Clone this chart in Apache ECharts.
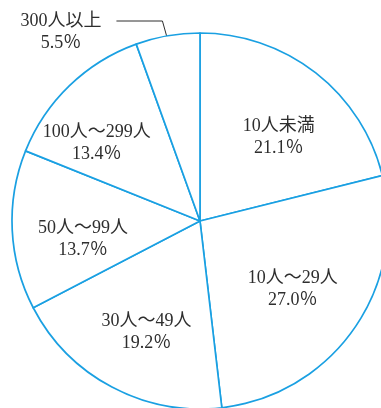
<!DOCTYPE html>
<html>
<head>
<meta charset="utf-8">
<style>
  html, body { margin: 0; padding: 0; background: #fff; }
  #chart { width: 381px; height: 408px; }
</style>
<script src="https://cdn.jsdelivr.net/npm/echarts@6/dist/echarts.min.js"></script>
</head>
<body>
<div id="chart"></div>
<script>
// Share of establishments by number of employees
const categories = ['10人未満', '10人～29人', '30人～49人', '50人～99人', '100人～299人', '300人以上'];
const shares = [21.1, 27.0, 19.2, 13.7, 13.4, 5.5];

// Pie geometry (px)
const CX = 200, CY = 221, R = 188;
// Nudges for the inside labels, relative to the default mid-ring spot
const labelNudge = [[19, -7], [13, 13], [-8, 26], [-20, 14], [-36, -8], [0, 0]];

const lineColor = '#1aa0e2';
const textColor = '#2e2e2e';
const fontFamily = "'Liberation Serif', 'DejaVu Serif', 'Noto Sans CJK JP', serif";

const total = shares.reduce((a, b) => a + b, 0);
function midAngle(i) {
  let acc = 0;
  for (let k = 0; k < i; k++) acc += shares[k];
  return ((acc + shares[i] / 2) / total) * 2 * Math.PI; // clockwise from top
}

const chart = echarts.init(document.getElementById('chart'), null, { renderer: 'canvas' });

chart.setOption({
  animation: false,
  backgroundColor: '#fff',
  series: [{
    type: 'pie',
    center: [CX, CY],
    radius: [0, R],
    startAngle: 90,
    clockwise: true,
    silent: true,
    itemStyle: { color: '#fff', borderColor: lineColor, borderWidth: 1.7 },
    label: {
      show: true,
      position: 'inside',
      color: textColor,
      fontFamily: fontFamily,
      fontSize: 18,
      lineHeight: 22,
      align: 'center',
      formatter: p => p.name + '\n' + shares[p.dataIndex].toFixed(1) + '％'
    },
    labelLine: { show: false },
    labelLayout: function (params) {
      const i = params.dataIndex;
      if (i === categories.length - 1) {
        // small slice: label outside, upper left, with a bent leader line
        const a = midAngle(i);
        const ax = CX + 0.945 * R * Math.sin(a);
        const ay = CY - 0.945 * R * Math.cos(a);
        const elbowX = ax - 7, elbowY = 21;
        const endX = elbowX - 46;
        return {
          x: 61, y: 32,
          align: 'center', verticalAlign: 'middle',
          labelLinePoints: [[ax, ay], [elbowX, elbowY], [endX, elbowY]]
        };
      }
      return { dx: labelNudge[i][0], dy: labelNudge[i][1] };
    },
    data: categories.map((name, i) => {
      const item = { name: name, value: shares[i] };
      if (i === categories.length - 1) {
        item.label = { position: 'outside' };
        item.labelLine = { show: true, lineStyle: { color: textColor, width: 1 } };
      }
      return item;
    })
  }]
});
</script>
</body>
</html>
